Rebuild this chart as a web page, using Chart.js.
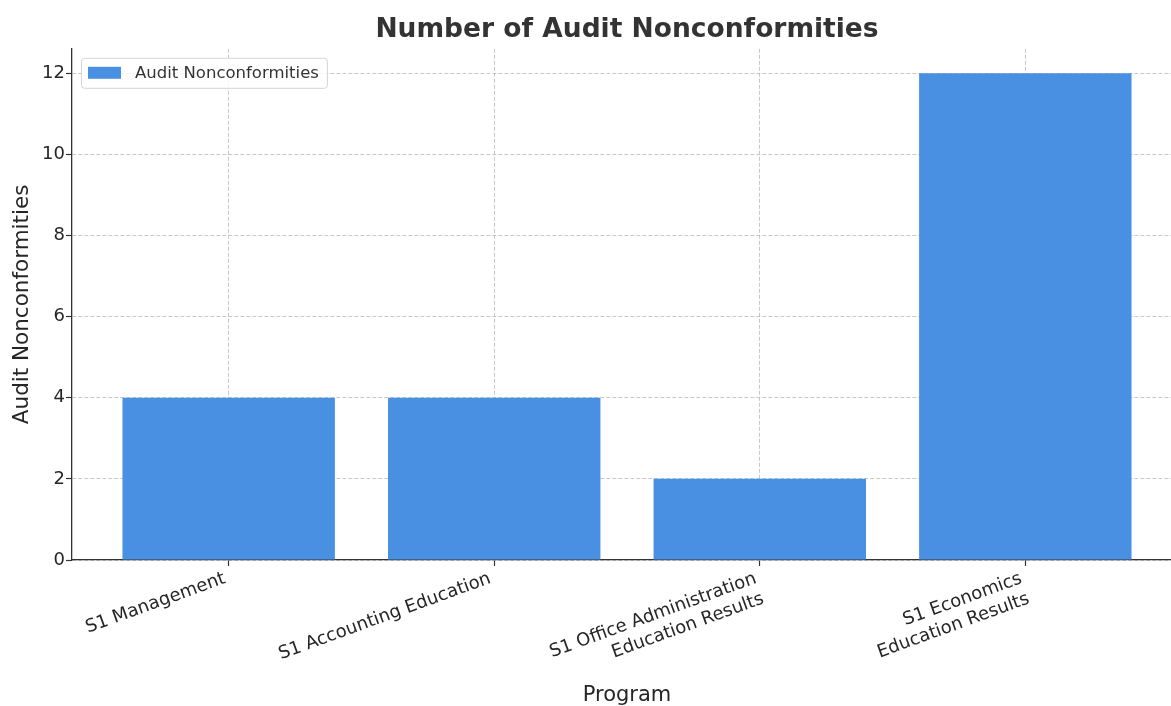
<!DOCTYPE html>
<html>
<head>
<meta charset="utf-8">
<script src="https://cdn.jsdelivr.net/npm/chart.js@4.4.0/dist/chart.umd.min.js"></script>
<style>
    html, body { margin: 0; padding: 0; overflow: hidden; background: #fff; }
    /* a bit wider than the window: the reference cuts off the right edge of the axes */
    #wrap { width: 1182px; height: 706px; }
</style>
</head>
<body>
<div id="wrap"><canvas id="bar-chart"></canvas></div>
<script>
    const programs = [
        ['S1 Management'],
        ['S1 Accounting Education'],
        ['S1 Office Administration', 'Education Results'],
        ['S1 Economics', 'Education Results']
    ];
    const nonconformities = [4, 4, 2, 12];
    const yTicks = [0, 2, 4, 6, 8, 10, 12];

    const FONT = "'DejaVu Sans', sans-serif";
    const gridColor = 'rgba(176,176,176,0.7)';

    // legend box inside the plot (top left), drawn over the grid like matplotlib does
    const innerLegend = {
        id: 'innerLegend',
        afterDraw(chart) {
            let ds = chart.data.datasets[0];
            let ctx = chart.ctx;
            let area = chart.chartArea;
            let x = area.left + 9, y = area.top + 9;
            ctx.save();
            ctx.font = '16.5px ' + FONT;
            let tw = ctx.measureText(ds.label).width;
            let w = 54 + tw + 8, h = 30;
            ctx.beginPath();
            ctx.roundRect(x + 0.5, y + 0.5, w, h, 3);
            ctx.fillStyle = 'rgba(255,255,255,0.85)';
            ctx.fill();
            ctx.strokeStyle = '#d4d4d4';
            ctx.lineWidth = 1;
            ctx.stroke();
            ctx.fillStyle = ds.backgroundColor;
            ctx.fillRect(x + 7, y + 9, 33, 12);
            ctx.fillStyle = '#333333';
            ctx.textBaseline = 'middle';
            ctx.textAlign = 'left';
            ctx.fillText(ds.label, x + 54, y + 15.5);
            ctx.restore();
        }
    };

    let barChart = document.getElementById('bar-chart');
    let myBarChart = new Chart(barChart, {
        type: 'bar',
        data: {
            datasets: [
                {
                    label: 'Audit Nonconformities',
                    data: nonconformities.map((v, i) => ({x: i, y: v})),
                    backgroundColor: '#4a90e2',
                    borderWidth: 0,
                    barPercentage: 0.8,
                    categoryPercentage: 1.0
                }
            ]
        },
        plugins: [innerLegend],
        options: {
            responsive: true,
            maintainAspectRatio: false,
            animation: false,
            layout: { padding: 0 },
            plugins: {
                title: {
                    display: true,
                    text: 'Number of Audit Nonconformities',
                    fullSize: false,
                    color: '#333333',
                    font: { family: FONT, size: 26.5, weight: 'bold', lineHeight: 1.2 },
                    padding: { top: 14, bottom: 3 }
                },
                legend: { display: false },
                tooltip: { enabled: false }
            },
            scales: {
                x: {
                    type: 'linear',
                    min: -0.59,
                    max: 3.59,
                    offset: false,
                    z: 1,
                    afterBuildTicks: (scale) => {
                        scale.ticks = programs.map((p, i) => ({value: i}));
                    },
                    afterFit: (scale) => { scale.height = 146; },
                    ticks: {
                        autoSkip: false,
                        minRotation: 20,
                        maxRotation: 20,
                        padding: 2,
                        labelOffset: -4,
                        color: '#262626',
                        font: { family: FONT, size: 18 },
                        callback: (v) => programs[v]
                    },
                    grid: {
                        offset: false,
                        color: gridColor,
                        lineWidth: 1,
                        tickColor: '#333333',
                        tickLength: 6,
                        tickWidth: 1.2
                    },
                    border: { display: true, color: '#333333', width: 1.3, dash: [4, 2] },
                    title: {
                        display: true,
                        text: 'Program',
                        color: '#262626',
                        font: { family: FONT, size: 21, lineHeight: 1.0 },
                        padding: { top: 4, bottom: 0 }
                    }
                },
                y: {
                    min: 0,
                    max: 12.6,
                    z: 1,
                    afterBuildTicks: (scale) => {
                        scale.ticks = yTicks.map(v => ({value: v}));
                    },
                    afterFit: (scale) => { scale.width = 72; },
                    ticks: {
                        padding: 1,
                        color: '#262626',
                        font: { family: FONT, size: 18 }
                    },
                    grid: {
                        color: gridColor,
                        lineWidth: 1,
                        tickColor: '#333333',
                        tickLength: 6,
                        tickWidth: 1.2
                    },
                    border: { display: true, color: '#333333', width: 1.3, dash: [4, 2] },
                    title: {
                        display: true,
                        text: 'Audit Nonconformities',
                        color: '#262626',
                        font: { family: FONT, size: 21.5, lineHeight: 1.2 },
                        padding: { top: 10, bottom: 0 }
                    }
                }
            }
        }
    });
</script>
</body>
</html>
